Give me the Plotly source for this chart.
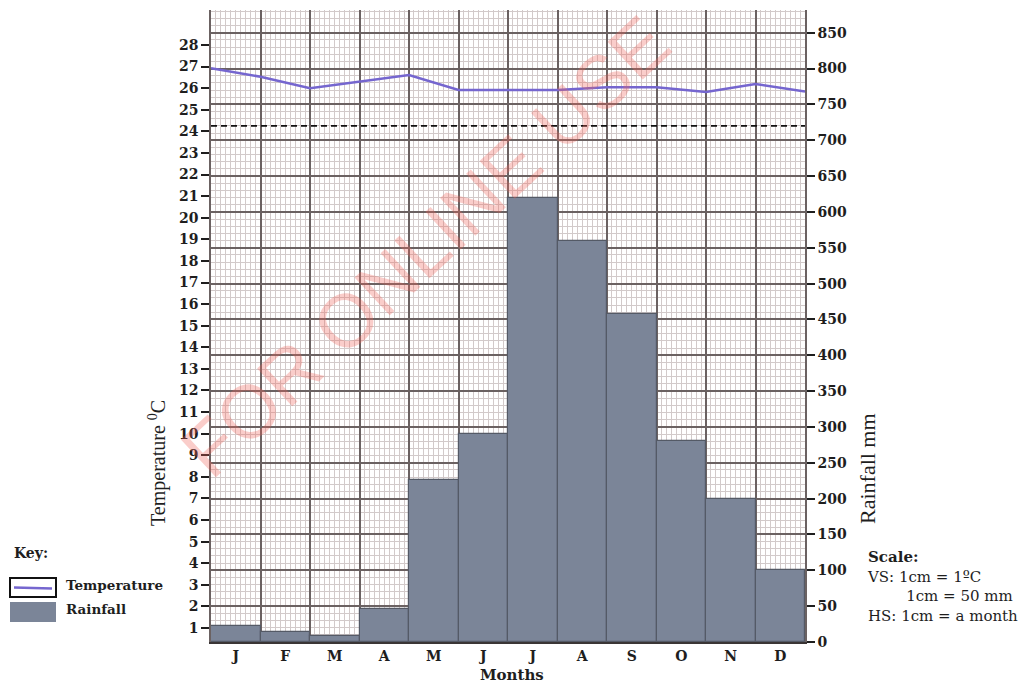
import numpy as np
import plotly.graph_objects as go

# ---------------- data ----------------
months = ["J", "F", "M", "A", "M", "J", "J", "A", "S", "O", "N", "D"]
rainfall_mm = [22, 14, 8, 46, 226, 290, 620, 560, 458, 280, 200, 100]
# temperature read at the month boundaries (start of Jan ... end of Dec)
temperature_c = [26.92, 26.53, 26.0, 26.3, 26.61, 25.92, 25.92, 25.92,
                 26.04, 26.04, 25.82, 26.19, 25.85]
temp_ticks = list(range(1, 29))
rain_ticks = list(range(0, 851, 50))
dashed_level_mm = 720

month_centres = np.arange(len(months)) + 0.5
temp_positions = np.arange(len(temperature_c))

# ---------------- layout helpers ----------------
W, H = 1028, 684
L, R, T, B = 211, 223, 10, 42
PW, PH = W - L - R, H - T - B


def px_x(x):
    return (x - L) / PW


def px_y(y):
    return (H - B - y) / PH


SERIF = "DejaVu Serif, serif"
TIMES = "Liberation Serif, Times New Roman, serif"
SANS = "Liberation Sans, Arial, sans-serif"
MAJOR = "#6b6262"
MINOR = "#d2caca"
INK = "#1e1e1e"
LINE_COLOR = "#7566cf"
BAR_COLOR = "#7b8598"

fig = go.Figure()

fig.add_trace(go.Scatter(
    x=temp_positions, y=temperature_c, mode="lines",
    line=dict(color=LINE_COLOR, width=2.5),
    xaxis="x", yaxis="y", name="Temperature", showlegend=False,
))
fig.add_trace(go.Bar(
    x=month_centres, y=rainfall_mm, width=1,
    xaxis="x2", yaxis="y2", name="Rainfall", showlegend=False,
    marker=dict(color=BAR_COLOR, line=dict(color="#545a66", width=1.2)),
))

fig.add_shape(type="line", xref="paper", x0=0, x1=1,
              yref="y2", y0=dashed_level_mm, y1=dashed_level_mm,
              line=dict(color="#111111", width=1.6, dash="6px,4px"))

tickfont = dict(family=SERIF, size=14, color=INK, weight="bold")

fig.update_layout(
    width=W, height=H,
    margin=dict(l=L, r=R, t=T, b=B, autoexpand=False),
    paper_bgcolor="white", plot_bgcolor="white",
    bargap=0, showlegend=False,
    xaxis=dict(
        range=[0, 12], tickmode="array", tickvals=month_centres, ticktext=months,
        showgrid=False, ticks="", zeroline=False, tickfont=tickfont,
        minor=dict(tickmode="linear", tick0=0, dtick=0.1, showgrid=True,
                   gridcolor=MINOR, gridwidth=1, ticks=""),
        showline=True, linecolor="#3a3535", linewidth=1.5, anchor="y",
        automargin=False,
    ),
    xaxis2=dict(
        range=[0, 12], overlaying="x", anchor="y2", side="bottom",
        tickmode="linear", tick0=0, dtick=1, showticklabels=False, ticks="",
        showgrid=True, gridcolor=MAJOR, gridwidth=1.5, zeroline=False,
        showline=False, automargin=False,
    ),
    yaxis=dict(
        range=[0.351, 29.62], tickmode="array", tickvals=temp_ticks,
        ticks="outside", ticklen=8, tickwidth=2, tickcolor=INK,
        showgrid=False, zeroline=False, tickfont=tickfont,
        showline=True, linecolor=MAJOR, linewidth=1.5, anchor="x",
        automargin=False,
    ),
    yaxis2=dict(
        range=[0, 881.7], overlaying="y", side="right", anchor="x2",
        tickmode="array", tickvals=rain_ticks,
        ticks="outside", ticklen=8, tickwidth=2, tickcolor=INK,
        showgrid=True, gridcolor=MAJOR, gridwidth=1.5, zeroline=False,
        minor=dict(tickmode="linear", tick0=0, dtick=10, showgrid=True,
                   gridcolor=MINOR, gridwidth=1, ticks=""),
        tickfont=tickfont, showline=True, linecolor=MAJOR, linewidth=1.5,
        automargin=False,
    ),
)

# ---------------- key (legend) ----------------
fig.add_shape(type="rect", xref="paper", yref="paper",
              x0=px_x(10), x1=px_x(56), y0=px_y(597), y1=px_y(578),
              line=dict(color="#111111", width=2), fillcolor="white")
fig.add_shape(type="line", xref="paper", yref="paper",
              x0=px_x(14), x1=px_x(52), y0=px_y(587.5), y1=px_y(588.5),
              line=dict(color=LINE_COLOR, width=2.5))
fig.add_shape(type="rect", xref="paper", yref="paper",
              x0=px_x(10), x1=px_x(56), y0=px_y(622), y1=px_y(602),
              line=dict(width=0), fillcolor=BAR_COLOR)

scale_text = ("<b>Scale:</b><br>VS: 1cm = 1ºC<br>"
              + "\u00a0" * 8 + "1cm = 50 mm<br>HS: 1cm = a month")

annotations = [
    dict(text="<b>Key:</b>", x=px_x(12), y=px_y(553), xanchor="left",
         font=dict(family=SERIF, size=14, color=INK)),
    dict(text="<b>Temperature</b>", x=px_x(64), y=px_y(585), xanchor="left",
         font=dict(family=SERIF, size=13.5, color=INK)),
    dict(text="<b>Rainfall</b>", x=px_x(64), y=px_y(609), xanchor="left",
         font=dict(family=SERIF, size=13.5, color=INK)),
    dict(text="Temperature <sup>0</sup>C", x=px_x(157), y=px_y(463), textangle=-90,
         font=dict(family=TIMES, size=20, color=INK)),
    dict(text="Rainfall mm", x=px_x(867), y=px_y(469), textangle=-90,
         font=dict(family=TIMES, size=22, color=INK)),
    dict(text="<b>Months</b>", x=px_x(512), y=px_y(675),
         font=dict(family=SERIF, size=15, color=INK)),
    dict(text=scale_text, x=px_x(865), y=px_y(546), xanchor="left", yanchor="top",
         align="left", font=dict(family=SERIF, size=15, color=INK)),
    dict(text="FOR ONLINE USE", x=px_x(425), y=px_y(247), textangle=-43,
         font=dict(family=SANS, size=75, color="rgba(240,100,90,0.32)")),
]
for a in annotations:
    a.setdefault("xanchor", "center")
    a.setdefault("yanchor", "middle")
    fig.add_annotation(xref="paper", yref="paper", showarrow=False, **a)

fig.write_html(
    "out.html",
    config={"displayModeBar": False},
    post_script="document.body.style.margin='0';document.body.style.overflow='hidden';",
)
